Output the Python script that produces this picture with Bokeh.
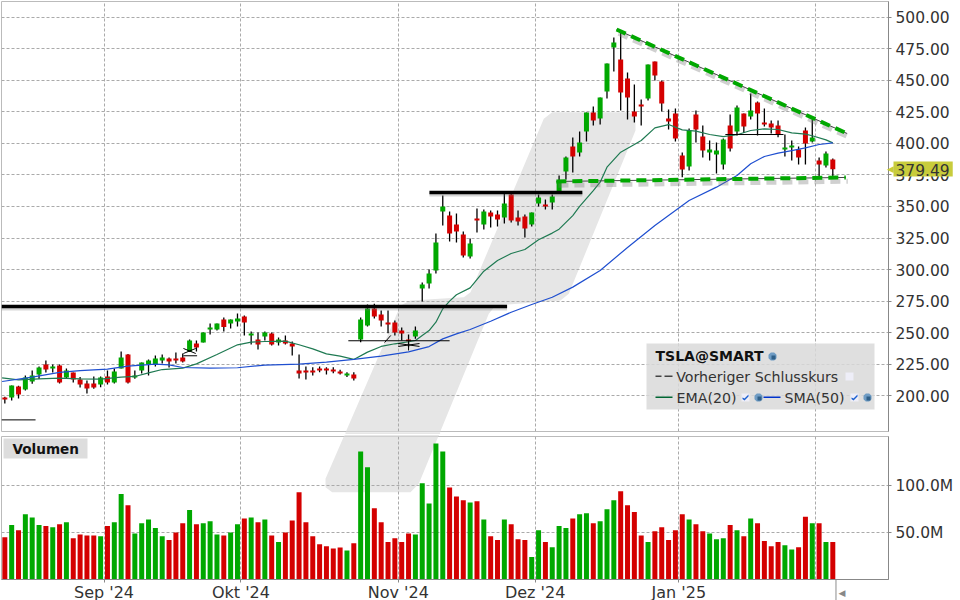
from bokeh.plotting import figure
from bokeh.layouts import column
from bokeh.models import (ColumnDataSource, Range1d, FixedTicker, NumeralTickFormatter, Grid,
                          BoxAnnotation, PolyAnnotation, Label)
from bokeh.embed import file_html
from bokeh.resources import INLINE

# ---------- data (bar index = trading day) ----------
open_ = [198.7,198.7,207.4,205.0,211.3,216.9,224.8,221.6,224.0,214.5,218.5,212.9,209.7,209.7,208.9,215.3,210.5,221.6,232.7,214.5,
         220.0,224.8,224.8,228.0,229.5,229.5,230.3,235.1,241.4,242.2,252.5,252.5,260.4,257.3,258.9,262.8,247.8,244.6,247.0,249.4,
         242.2,243.8,241.4,220.0,220.0,220.0,221.6,221.6,220.8,219.3,216.1,216.9,244.6,255.7,269.2,264.4,258.1,258.1,251.7,244.6,
         247.0,285.0,289.0,299.3,346.0,342.8,335.7,327.8,310.4,340.5,335.7,345.2,343.6,341.3,359.5,341.3,342.1,335.7,352.4,351.6,
         353.1,361.1,377.7,397.5,392.7,409.4,424.4,419.7,441.1,475.9,466.4,451.4,425.2,430.8,435.5,464.8,449.0,419.7,423.7,390.4,
         381.7,422.9,405.4,392.7,391.2,383.2,414.1,409.4,423.6,421.2,432.3,416.5,415.7,414.1,395.1,396.7,395.1,410.2,401.4,386.4,
         382.4,387.2]
high = [199.2,208.2,207.9,216.1,220.0,223.2,228.0,224.8,224.8,221.6,218.5,214.8,212.1,215.3,215.3,220.0,221.6,235.1,233.2,220.0,
        226.4,228.8,231.9,232.7,230.3,234.3,233.5,244.6,243.8,250.2,257.3,257.3,262.0,260.4,265.2,263.6,250.9,250.2,250.9,250.2,
        246.2,247.8,243.0,232.7,223.2,222.7,223.2,222.7,222.7,220.6,218.7,218.7,262.0,272.3,272.9,267.6,267.6,259.7,254.1,248.6,
        254.9,289.8,300.1,328.6,358.7,346.0,344.4,330.2,324.6,348.4,347.6,346.8,346.8,361.9,361.9,346.8,343.6,345.2,359.5,355.5,
        359.5,374.5,389.6,404.6,409.4,424.4,429.2,436.3,463.3,483.9,489.4,456.1,446.6,434.7,462.5,464.8,449.8,426.8,427.6,392.7,
        411.8,426.0,414.1,402.3,400.7,403.8,422.9,430.0,423.6,439.5,433.1,427.6,418.1,418.1,407.0,402.2,397.5,412.5,418.9,388.8,
        393.5,388.0]
low = [193.9,196.3,197.9,204.2,209.5,213.2,218.5,218.5,209.7,213.7,210.5,206.6,201.8,205.5,206.8,208.9,209.7,221.6,209.7,213.4,
       217.7,216.1,223.2,225.6,222.4,225.6,226.4,234.6,235.1,242.2,248.6,251.7,250.9,253.3,254.9,247.8,240.6,236.7,243.8,239.9,
       239.9,240.6,231.9,213.7,212.9,216.1,218.7,216.9,217.9,216.9,214.8,212.1,242.5,254.9,261.2,254.9,249.6,247.8,243.8,238.5,
       245.1,274.7,285.0,296.9,334.9,322.2,321.5,309.6,308.8,329.4,331.8,333.3,334.1,336.5,337.3,334.9,325.4,334.1,350.0,347.6,
       347.6,360.0,371.4,376.9,389.6,401.5,414.1,414.9,435.5,456.9,426.0,418.9,416.5,414.1,433.9,449.8,425.2,411.0,401.5,373.2,
       378.5,400.7,388.8,386.4,376.1,379.3,393.5,406.2,408.3,418.9,406.2,413.3,407.8,404.9,389.6,386.4,383.2,383.2,400.7,373.7,
       380.8,373.7]
close = [197.1,208.2,201.0,214.5,216.1,222.4,220.8,223.2,210.5,220.0,212.9,208.9,205.8,206.6,214.5,210.5,219.2,230.3,210.5,216.1,
         226.4,228.0,229.5,230.3,227.2,228.0,227.2,243.8,238.3,250.2,254.1,257.3,254.4,260.4,261.2,258.1,249.4,240.6,250.2,240.6,
         244.6,241.4,239.1,217.7,218.5,218.5,220.0,220.0,219.3,217.7,217.7,213.7,260.4,269.2,262.8,259.7,256.5,250.1,249.4,243.3,
         251.7,288.2,296.9,321.5,350.0,328.6,330.2,311.2,320.7,338.9,346.0,342.1,339.7,352.4,338.9,338.1,332.5,345.2,357.1,350.0,
         357.9,369.8,388.8,389.6,400.7,424.4,418.1,436.3,463.3,479.9,440.3,436.3,421.3,429.2,462.5,453.8,431.6,417.3,403.8,379.3,
         410.2,411.0,394.3,395.1,394.3,403.1,395.9,428.4,413.3,426.0,423.6,414.9,412.5,407.0,396.7,398.3,388.8,399.9,404.6,383.2,
         392.0,379.49]
volume = [45,58,52.5,69.5,66,58,57,55.7,59,61,44,48,47,47,46,57,61,91,79,49,60,64,55,46,42,50,60,74,59,60,62,48,47,50,59,65,66,61,64,47,
          40,50,63,93,61,46,37.5,35.5,33,34,31,38.5,136.5,119.5,76,61,40,44,40,49,48,102.5,81,145,136.5,98,88.5,84.4,82,83.3,64,46,42,64,59,43,42,24,52.5,40,
          34.4,57,55,65,69.5,70.5,60,62,75,84.4,94,79,72,47,40,51.5,55.7,42,52.5,69.5,64,59,51.5,49,43,44,58,52.5,46,65,60,41,35.5,40,36.5,32,34.4,67,60,60,
          40,40]
volume_up = [0,1,0,1,1,1,0,1,0,1,0,0,0,0,1,0,1,1,0,1,1,1,1,1,0,0,0,1,0,1,1,1,0,1,1,0,1,0,1,0,
             1,0,0,0,0,0,0,0,0,0,1,0,1,1,0,0,0,0,0,0,1,1,1,1,1,0,0,0,1,0,1,0,0,1,0,0,0,1,1,0,
             1,1,1,0,1,1,0,1,1,1,0,0,0,0,1,0,0,0,0,0,1,0,0,1,1,1,0,1,0,1,0,0,0,0,1,1,0,0,1,0,
             1,0]
ema_day = [-0.4,2,5,8,11,14,17,19,21,23,26,28,31,34,36,38,41,43,45,47,49,51,53,55,57,59,60,62,63,64,65,66,68,70,72,74,76,78,80,81,83,84,86,87,88,90,92,93,95,97,99,101,103,105,107,109,111,113,115,117,118,120,121]
ema_val = [214.2,212.6,213.4,214,213.4,213.2,214.8,215.3,218.2,220.8,221.9,225.3,232.7,240.4,242.5,243,243.3,240.4,237.2,233.2,231.4,228.8,234.6,239.1,241.2,242.8,243.8,251.7,258.3,268.9,275,280,285.5,298.7,307.2,312.7,315.9,323.6,328.9,332,342.8,350,362.6,369.2,381.1,393,399.1,402.3,412.3,414.9,410.7,409.7,407,405.4,406.8,410.2,411.5,411,408.3,407.3,406,402.8,400.4]
sma_day = [-0.4,4,8,11,15,18,22,24,26,30,34,38,43,47,51,55,59,62,64,66,68,71,74,77,80,83,87,91,95,100,104,107,109,111,113,115,117,119,121]
sma_val = [211.3,214.8,218.5,220,221.1,223.5,225.1,224.5,222.4,221.9,222.2,224.3,225.1,226.6,228.8,231.4,234.8,239,245.1,249.1,252.5,259.1,266.2,272.3,278.1,286.1,299.3,317.5,334.9,354.7,365.3,374.5,383.8,389.6,392.2,394.3,396.4,399.1,400.4]
price_ticks = [200,225,250,275,300,325,350,375,400,425,450,475,500]
volume_ticks = [50,100]
volume_tick_labels = {50:"50.0M",100:"100.0M"}
month_days = [14.5,34.5,57.5,77.5,98.5,118.5]
month_labels = ["Sep '24","Okt '24","Nov '24","Dez '24","Jan '25",""]
last_price = "379.49"
# black support/resistance lines: start day, start price, end day, end price
heavy_x0,heavy_y0,heavy_x1,heavy_y1 = [-0.49,62.05],[270.75,361.0],[73.4,84.4],[270.75,361.0]
# green dashed trend lines
trend_x0,trend_y0,trend_x1,trend_y1 = [89.4,80.6],[490.2,369.8],[123.1,122.9],[407.8,373.0]
# thin black drawing marks
thin_x0 = [-0.49,26.1,26.1,26.1,50.2,57.5,57.5,55.5,59.0,105.3]
thin_y0 = [180.9,231.7,237.5,233.5,243.6,241.4,239.1,242.2,243.9,407.0]
thin_x1 = [4.49,28.1,27.9,27.9,65.0,60.6,60.6,56.4,59.0,113.8]
thin_y1 = [180.9,231.7,233.5,237.5,243.6,239.1,241.4,247.8,235.9,407.0]

# ---------- styles ----------
FONT = "DejaVu Sans"
GREEN, RED = "#00a800", "#d40000"
TXT = "#333333"
GRIDC = "#aaaaaa"
WM_COLOR = "#e6e6e6"
TAG_COLOR = "#c8cc3c"
WM = [(331.7,491.7),(410,491.7),(418.3,483.3),(488.3,313.3),(495,305),(560,300),(568.3,293.3),(635,130),(635,116.7),
      (628.3,111.7),(551.7,111.7),(543.3,118.3),(470,291.7),(463.3,296.7),(410,300),(400,305),(325,478.3),(325,486.7)]
P2_TOP = 434

x_range = Range1d(-0.487, 129.14)
days = list(range(len(close)))

def poly(fig, pts, color, dy=0, level="annotation", alpha=1.0):
    fig.add_layout(PolyAnnotation(xs=[p[0] for p in pts], ys=[p[1]-dy for p in pts], xs_units="canvas", ys_units="canvas",
                                  fill_color=color, fill_alpha=alpha, line_color=None, level=level))

def box(fig, l, t, r, b, color, dy=0, alpha=1.0):
    fig.add_layout(BoxAnnotation(left=l, right=r, top=t-dy, bottom=b-dy, left_units="canvas", right_units="canvas",
                                 top_units="canvas", bottom_units="canvas", fill_color=color, fill_alpha=alpha, line_color=None))

def text(fig, x, y, s, size="14.2px", bold=False, dy=0, color=TXT, side=None, **kw):
    a = Label(x=x, y=y-dy, x_units="canvas", y_units="canvas", text=s, text_font=FONT, text_font_size=size,
              text_color=color, text_baseline="middle", text_align="left",
              text_font_style="bold" if bold else "normal", **kw)
    fig.add_layout(a, side) if side else fig.add_layout(a)

def ball(fig, cx, cy):
    r, q = 4.0, 1.7
    poly(fig, [(cx-q,cy-r),(cx+q,cy-r),(cx+r,cy-q),(cx+r,cy+q),(cx+q,cy+r),(cx-q,cy+r),(cx-r,cy+q),(cx-r,cy-q)], "#6f9cc4")
    poly(fig, [(cx-1,cy-1),(cx+3,cy-1),(cx+3,cy+3),(cx-1,cy+3)], "#2f5f88")

def check(fig, cx, cy, ticked=True):
    box(fig, cx-4, cy-4, cx+4, cy+4, "#eeeef8")
    if ticked:
        poly(fig, [(cx-3,cy),(cx-1,cy+1),(cx+3,cy-3),(cx+3,cy-1),(cx-1,cy+3),(cx-3,cy+1.5)], "#1a5fd0")

def style_axis(ax):
    ax.axis_line_color = "#888888"
    ax.major_tick_line_color = "#888888"
    ax.major_tick_out = 3
    ax.major_tick_in = 0
    ax.minor_tick_line_color = None
    ax.major_label_text_font = FONT
    ax.major_label_text_font_size = "15.5px"
    ax.major_label_text_color = TXT

def add_grids(fig, yticks):
    fig.add_layout(Grid(dimension=0, ticker=FixedTicker(ticks=month_days), grid_line_color=GRIDC, grid_line_dash=[3,2], grid_line_width=1))
    fig.add_layout(Grid(dimension=1, ticker=FixedTicker(ticks=yticks), grid_line_color=GRIDC, grid_line_dash=[3,2], grid_line_width=1))

# ---------- price panel ----------
p1 = figure(width=960, height=P2_TOP, frame_width=887, frame_height=430, output_backend="svg", toolbar_location=None, x_range=x_range,
            y_range=Range1d(171.7, 512.4), x_axis_location=None, y_axis_location="right",
            min_border_left=1, min_border_right=0, min_border_top=1, min_border_bottom=3)
p1.xgrid.visible = False
p1.ygrid.visible = False
p1.outline_line_color = "#bbbbbb"
style_axis(p1.yaxis[0])
p1.yaxis[0].ticker = FixedTicker(ticks=price_ticks)
p1.yaxis[0].formatter = NumeralTickFormatter(format="0.00")
p1.yaxis[0].major_label_standoff = 4
add_grids(p1, price_ticks)
poly(p1, WM, WM_COLOR, level="image")

cd = ColumnDataSource(dict(x=days, o=open_, h=high, l=low, c=close,
                           top=[max(a,b) for a,b in zip(open_,close)], bot=[min(a,b) for a,b in zip(open_,close)],
                           col=[GREEN if b>a else RED for a,b in zip(open_,close)]))
p1.segment(x0="x", x1="x", y0="l", y1="h", source=cd, line_color="#000000", line_width=1.3)
p1.vbar(x="x", top="top", bottom="bot", width=0.73, source=cd, fill_color="col", line_color=None)
p1.line(ema_day, ema_val, line_color="#1f7a52", line_width=1.2)
p1.line(sma_day, sma_val, line_color="#1f4fd0", line_width=1.2)

# shadows, then lines
SHADOW_DX, SHADOW_DY = 0.3, 3.0
p1.segment([a+SHADOW_DX for a in trend_x0],[a-SHADOW_DY for a in trend_y0],[a+SHADOW_DX for a in trend_x1],[a-SHADOW_DY for a in trend_y1],
           line_color="#777777", line_alpha=0.35, line_width=5, line_dash="10 6")
p1.segment(heavy_x0,[a-1.6 for a in heavy_y0],heavy_x1,[a-1.6 for a in heavy_y1], line_color="#777777", line_alpha=0.3, line_width=4)
p1.segment(heavy_x0,heavy_y0,heavy_x1,heavy_y1, line_color="#000000", line_width=3.5)
p1.segment(trend_x0,trend_y0,trend_x1,trend_y1, line_color="#444444", line_width=1)
p1.segment(trend_x0,trend_y0,trend_x1,trend_y1, line_color="#00a800", line_width=4, line_dash="10 6")
p1.segment(thin_x0,thin_y0,thin_x1,thin_y1, line_color="#000000", line_width=1)

# last price tag (placed in the right panel so it is not clipped to the frame)
text(p1, 886.5, 168.5, "◀", size="9px", color=TAG_COLOR, side="right")
text(p1, 893, 168.5, last_price, size="15.5px", side="right", background_fill_color=TAG_COLOR, padding=(2,3,2,1))
# watermark across the gap between the panels
text(p1, 345, 433, " ", size="2px", side="right", background_fill_color=WM_COLOR, padding=(0,94,0,0))

# legend
box(p1, 646, 343, 874, 409, "#d9d9d9", alpha=0.85)
text(p1, 655, 355.7, "TSLA@SMART", size="14px", bold=True, color="#111111")
ball(p1, 772, 356)
box(p1, 655, 375, 661, 376.5, "#444444")
box(p1, 664, 375, 672, 376.5, "#444444")
text(p1, 675.7, 376, "Vorheriger Schlusskurs")
check(p1, 849, 376, ticked=False)
box(p1, 655, 396, 672, 397.5, "#006633")
text(p1, 676, 397, "EMA(20)")
check(p1, 745, 397)
ball(p1, 758, 397)
box(p1, 763, 396, 780, 397.5, "#0033cc")
text(p1, 784, 397, "SMA(50)")
check(p1, 854, 397)
ball(p1, 867, 397)

# ---------- volume panel ----------
p2 = figure(width=960, height=600-P2_TOP, frame_width=887, frame_height=143, output_backend="svg", toolbar_location=None, x_range=x_range,
            y_range=Range1d(0, 152.4), x_axis_location="below", y_axis_location="right",
            min_border_left=1, min_border_right=0, min_border_top=2, min_border_bottom=0)
p2.xgrid.visible = False
p2.ygrid.visible = False
p2.outline_line_color = "#bbbbbb"
style_axis(p2.yaxis[0])
p2.yaxis[0].ticker = FixedTicker(ticks=volume_ticks)
p2.yaxis[0].major_label_overrides = volume_tick_labels
p2.yaxis[0].major_label_standoff = 4
style_axis(p2.xaxis[0])
p2.xaxis[0].ticker = FixedTicker(ticks=month_days[:-1])
p2.xaxis[0].major_label_overrides = dict(zip(month_days, month_labels))
p2.xaxis[0].major_label_standoff = 0
p2.xaxis[0].major_label_text_font_size = "16px"
add_grids(p2, volume_ticks)
poly(p2, WM, WM_COLOR, dy=P2_TOP, level="image")
vd = ColumnDataSource(dict(x=days, v=volume, col=[GREEN if u else RED for u in volume_up]))
p2.vbar(x="x", top="v", bottom=0, width=0.73, source=vd, fill_color="col", line_color=None)
box(p2, 3, 438, 87, 458, "#dddddd", dy=P2_TOP)
text(p2, 12, 448.5, "Volumen", size="13.6px", bold=True, dy=P2_TOP, color="#111111")
# end-of-data marker below the axis
text(p2, 835, 590, " ", size="3px", dy=P2_TOP, side="right", background_fill_color="#888888", padding=(0,0,9,9))
text(p2, 838, 592, "◀", size="9px", dy=P2_TOP, color="#888888", side="right")
# watermark across the gap between the panels
text(p2, 344, 435, " ", size="1px", dy=P2_TOP, side="right", background_fill_color=WM_COLOR, padding=(0,94,0,0))

root = column(p1, p2, spacing=0)
open("out.html", "w").write(file_html(root, INLINE))
